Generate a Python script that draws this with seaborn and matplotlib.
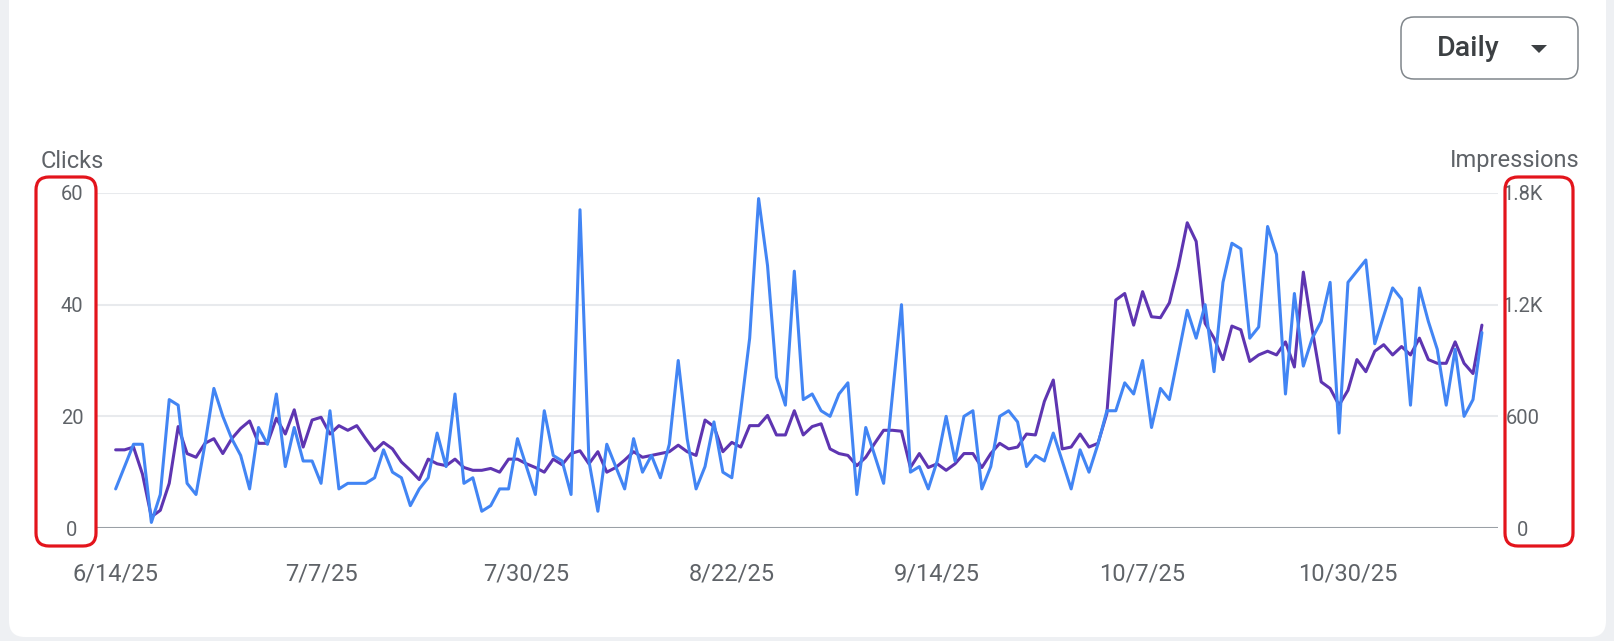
import pandas as pd
import matplotlib
matplotlib.use('Agg')
import matplotlib.pyplot as plt
from matplotlib.patches import FancyBboxPatch, Polygon
import seaborn as sns

# Data (daily)
start_date = '2025-06-14'
clicks = [
    7, 11, 15, 15, 1, 6, 23, 22, 8, 6,
    15, 25, 20, 16, 13, 7, 18, 15, 24, 11,
    18, 12, 12, 8, 21, 7, 8, 8, 8, 9,
    14, 10, 9, 4, 7, 9, 17, 11, 24, 8,
    9, 3, 4, 7, 7, 16, 11, 6, 21, 13,
    12, 6, 57, 12, 3, 15, 11, 7, 16, 10,
    13, 9, 15, 30, 16, 7, 11, 19, 10, 9,
    21, 34, 59, 47, 27, 22, 46, 23, 24, 21,
    20, 24, 26, 6, 18, 13, 8, 24, 40, 10,
    11, 7, 12, 20, 12, 20, 21, 7, 11, 20,
    21, 19, 11, 13, 12, 17, 12, 7, 14, 10,
    15, 21, 21, 26, 24, 30, 18, 25, 23, 31,
    39, 34, 40, 28, 44, 51, 50, 34, 36, 54,
    49, 24, 42, 29, 34, 37, 44, 17, 44, 46,
    48, 33, 38, 43, 41, 22, 43, 37, 32, 22,
    32, 20, 23, 35,
]
impressions = [
    420, 420, 435, 290, 60, 95, 240, 545, 400, 380,
    455, 480, 400, 480, 535, 575, 455, 455, 590, 505,
    635, 435, 580, 595, 505, 550, 525, 550, 480, 415,
    460, 425, 355, 310, 260, 370, 345, 335, 370, 325,
    310, 310, 320, 300, 370, 370, 345, 325, 300, 370,
    340, 400, 415, 345, 410, 300, 325, 365, 410, 380,
    390, 400, 410, 445, 410, 390, 580, 545, 410, 460,
    435, 550, 550, 605, 500, 500, 630, 500, 545, 560,
    425, 400, 390, 335, 380, 455, 525, 525, 520, 325,
    400, 325, 345, 310, 345, 400, 400, 325, 400, 455,
    425, 435, 505, 500, 680, 795, 425, 435, 505, 435,
    455, 615, 1225, 1260, 1090, 1270, 1135, 1130, 1210, 1405,
    1640, 1540, 1100, 1020, 905, 1085, 1065, 895, 930, 950,
    930, 1000, 865, 1375, 1065, 785, 750, 660, 740, 905,
    840, 950, 985, 930, 975, 930, 1020, 905, 885, 885,
    1000, 885, 830, 1090,
]
x_tick_labels = ['6/14/25', '7/7/25', '7/30/25', '8/22/25', '9/14/25', '10/7/25', '10/30/25']
clicks_ticks = [0, 20, 40, 60]
clicks_tick_labels = ['0', '20', '40', '60']
impr_ticks = [0, 600, 1200, 1800]
impr_tick_labels = ['0', '600', '1.2K', '1.8K']

df = pd.DataFrame({
    'date': pd.date_range(start_date, periods=len(clicks), freq='D'),
    'clicks': clicks,
    'impressions': impressions,
})

sns.set_theme(style='white')
plt.rcParams['font.family'] = ['Roboto', 'DejaVu Sans']

TEXT = '#5f6368'
BLUE = '#4285f4'
PURPLE = '#5e35b1'
W, H = 1614, 641

fig = plt.figure(figsize=(W / 100, H / 100), dpi=100)
fig.patch.set_facecolor('#eef0f3')

# white card
card = FancyBboxPatch((9 / 100, 4 / 100), (1606 - 9) / 100, 7.0, boxstyle='round,pad=0,rounding_size=0.16',
                      transform=fig.dpi_scale_trans, facecolor='white', edgecolor='none', zorder=-10)
fig.add_artist(card)

ax = fig.add_axes([96 / W, (H - 528) / H, (1498 - 96) / W, (528 - 193) / H])
ax2 = ax.twinx()

sns.lineplot(data=df, x='date', y='impressions', ax=ax2, color=PURPLE, linewidth=2.2)
sns.lineplot(data=df, x='date', y='clicks', ax=ax, color=BLUE, linewidth=2.2)

ax.set_zorder(1)
ax.patch.set_visible(False)

ax.set_ylim(0, 60)
ax2.set_ylim(0, 1800)
ax.set_xlim(df['date'].iloc[0] - pd.Timedelta(days=2.2), df['date'].iloc[-1] + pd.Timedelta(days=1.8))

ax.set_yticks(clicks_ticks)
ax.set_yticklabels(clicks_tick_labels)
ax2.set_yticks(impr_ticks)
ax2.set_yticklabels(impr_tick_labels)
ax.set_xticks(pd.to_datetime(x_tick_labels, format='%m/%d/%y'))
ax.set_xticklabels(x_tick_labels)

ax2.grid(axis='y', color='#e8eaed', linewidth=1.5)
ax.grid(False)
ax2.axhline(0, color='#9aa0a6', linewidth=2.2, zorder=3)

for a in (ax, ax2):
    a.set_xlabel('')
    a.set_ylabel('')
    for s in a.spines.values():
        s.set_visible(False)

ax.tick_params(axis='y', length=0, pad=17.3, labelsize=14.5, labelcolor=TEXT)
ax2.tick_params(axis='y', length=0, pad=18, labelsize=14.5, labelcolor=TEXT)
ax.tick_params(axis='x', length=0, pad=25, labelsize=17, labelcolor=TEXT)
for lab in ax.get_yticklabels() + ax2.get_yticklabels():
    lab.set_horizontalalignment('center')

fig.text(41 / W, (H - 161) / H, 'Clicks', ha='left', va='center', fontsize=17, color=TEXT)
fig.text(1579 / W, (H - 161) / H, 'Impressions', ha='right', va='center', fontsize=17, color=TEXT)

# red highlight boxes around the value axes
for x0, x1 in [(36, 96), (1505, 1573)]:
    box = FancyBboxPatch((x0 / 100, (H - 546) / 100), (x1 - x0) / 100, (546 - 177) / 100,
                         boxstyle='round,pad=0,rounding_size=0.13', transform=fig.dpi_scale_trans,
                         facecolor='none', edgecolor='#e3141c', linewidth=2.3, zorder=5)
    fig.add_artist(box)

# "Daily" dropdown
drop = FancyBboxPatch((1401 / 100, (H - 79) / 100), (1578 - 1401) / 100, 62 / 100,
                      boxstyle='round,pad=0,rounding_size=0.13', transform=fig.dpi_scale_trans,
                      facecolor='white', edgecolor='#80868b', linewidth=1.1, zorder=5)
fig.add_artist(drop)
fig.text(1468 / W, (H - 48) / H, 'Daily', ha='center', va='center', fontsize=20.5,
         fontweight='medium', color='#3c4043', zorder=7)
tri = Polygon([(1531 / 100, (H - 45) / 100), (1547 / 100, (H - 45) / 100), (1539 / 100, (H - 53) / 100)],
              closed=True, transform=fig.dpi_scale_trans, facecolor='#3c4043', edgecolor='none', zorder=6)
fig.add_artist(tri)

fig.savefig('out.png', dpi=100, facecolor=fig.get_facecolor())
